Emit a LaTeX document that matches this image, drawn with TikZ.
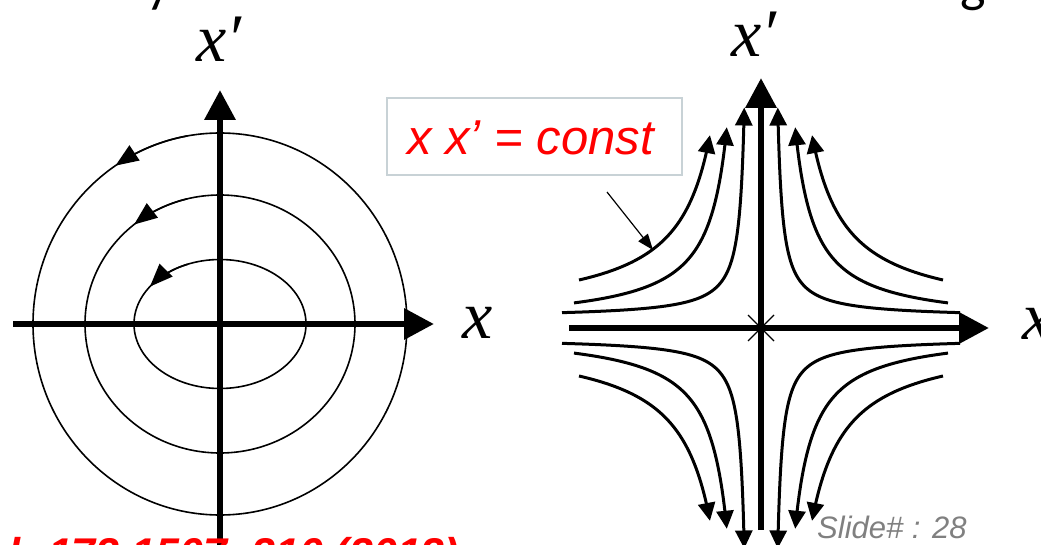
\documentclass[tikz,border=0pt]{standalone}
\usepackage{fontspec}
\setmainfont{Liberation Serif}
\newfontfamily\arialf{Liberation Sans}
\newfontfamily\calib{Carlito}
\usetikzlibrary{arrows.meta}
\definecolor{boxgray}{RGB}{200,210,214}
\definecolor{slidegray}{RGB}{128,128,128}
\newcommand{\flowcurve}[7]{%
  \draw[flow] plot[domain=0:1, samples=70, variable=\s]
    ({761 + (#1)*(#3 + #6*exp(\s*(#7)))}, {328 + (#2)*(#4 + #5/(#6*exp(\s*(#7))))});}
\begin{document}
\begin{tikzpicture}[x=1pt,y=-1pt,
  axis/.style={line width=6.5pt, -{Triangle[length=30pt,width=30pt]}},
  orbit/.style={line width=1.6pt},
  orbitarrow/.style={line width=1.6pt, -{Triangle[length=23pt,width=18pt]}},
  flow/.style={line width=3pt, -{Triangle[length=18pt,width=17pt]}},
  lbl/.style={font=\fontsize{68}{70}\selectfont\itshape, inner sep=0pt},
  pointer/.style={line width=1.2pt, -{Triangle[length=16pt,width=12pt]}},
]
\useasboundingbox (0,0) rectangle (1041,545);
\clip (0,0) rectangle (1041,545);
\fill[white] (0,0) rectangle (1041,545);

% clipped title glyphs
\node[font=\calib\fontsize{54}{56}\selectfont, anchor=base west, inner sep=0pt] (ty) at (146,2) {y};
\node[font=\calib\fontsize{54}{56}\selectfont, anchor=base west, inner sep=0pt] (tg) at (960,2) {g};

% ---------- left: centre ----------
\coordinate (O1) at (220,324);
\draw[orbit] (O1) ellipse [x radius=187, y radius=191];
\draw[orbit] (O1) ellipse [x radius=135, y radius=129];
\draw[orbit] (O1) ellipse [x radius=86, y radius=64.5];
\draw[orbitarrow] plot[domain=100:124, samples=20] ({220+187*cos(\x)},{324-191*sin(\x)});
\draw[orbitarrow] plot[domain=104:129.5, samples=20] ({220+135*cos(\x)},{324-129*sin(\x)});
\draw[orbitarrow] plot[domain=112:144.5, samples=20] ({220+86*cos(\x)},{324-64.5*sin(\x)});
\coordinate (L1) at (13,324);
\coordinate (R1) at (434,324);
\coordinate (B1) at (220,560);
\coordinate (T1) at (220,90);
\draw[axis] (L1) -- (R1);
\draw[axis] (B1) -- (T1);
\node[lbl, anchor=base west] (xp1) at (196,62) {x′};
\node[lbl] (x1) at (478,323) {x};

% ---------- right: saddle ----------
\coordinate (O2) at (761,328);
\coordinate (L2) at (569,328);
\coordinate (R2) at (989,328);
\coordinate (B2) at (761,530);
\coordinate (T2) at (761,78);
\draw[axis] (L2) -- (R2);
\draw[axis] (B2) -- (T2);
\draw[line width=1.3pt] (748,315) -- (774,341) (774,315) -- (748,341);
\foreach \sx in {-1,1}{
  \foreach \sy in {-1,1}{
    \flowcurve{\sx}{\sy}{12}{10}{1000}{187}{-3.675}
    \flowcurve{\sx}{\sy}{15}{3}{3800}{172}{-2.193}
    \flowcurve{\sx}{\sy}{16.7}{10}{6280}{165.3}{-1.573}
  }
}
\node[lbl, anchor=base west] (xp2) at (731,57) {x′};
\node[lbl, anchor=base west] (x2) at (1022,339) {x};

% label box
\node[draw=boxgray, line width=1.5pt, fill=white, minimum width=295pt, minimum height=77pt, inner sep=0pt] (box) at (534.5,136.5) {};
\node[text=red, font=\arialf\itshape\fontsize{49}{51}\selectfont, anchor=base west, inner sep=0pt] (eq) at (407,155) {x x’ = const};
\coordinate (ptail) at (607,192);
\coordinate (phead) at (653,250);
\draw[pointer] (ptail) -- (phead);

% footer texts
\node[text=slidegray, font=\arialf\itshape\fontsize{31}{33}\selectfont, anchor=base west, inner sep=0pt] (slide) at (817,538) {Slide\# : 28};
\node[text=red, font=\arialf\bfseries\itshape\fontsize{43}{45}\selectfont, anchor=base west, inner sep=0pt] (ref) at (8,568) {l. 172 1507–210 (2012)};
\end{tikzpicture}
\end{document}
